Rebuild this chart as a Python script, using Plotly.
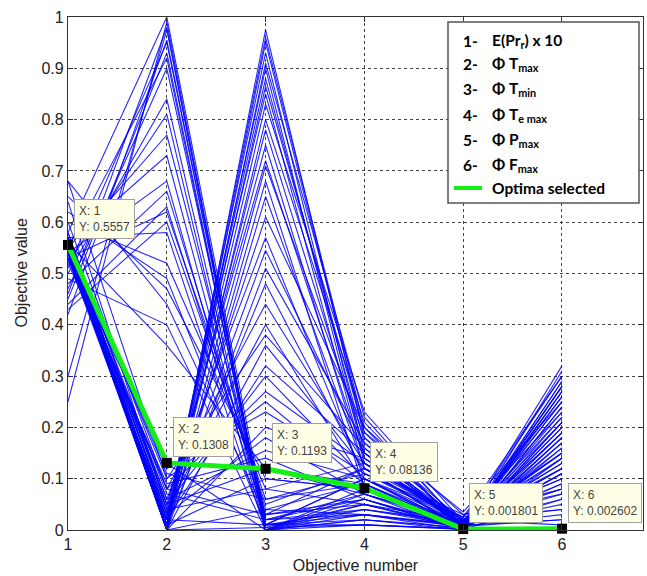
import plotly.graph_objects as go

# ---------------- data ----------------
objectives = [1, 2, 3, 4, 5, 6]

# values of each solution (one entry per blue line) on each objective
obj1 = [0.25, 0.30, 0.42, 0.45, 0.47, 0.50, 0.52, 0.55, 0.56, 0.54, 0.48, 0.44, 0.53, 0.57, 0.60,
        0.62, 0.65, 0.68, 0.46, 0.51, 0.55, 0.58, 0.43, 0.49, 0.56,
        0.55, 0.56, 0.54, 0.55, 0.57, 0.53, 0.56, 0.55, 0.54, 0.58, 0.55, 0.56, 0.53, 0.57, 0.55,
        0.54, 0.56, 0.60, 0.64, 0.68, 0.55, 0.56, 0.54, 0.57, 0.55,
        0.55, 0.54, 0.56, 0.53, 0.57, 0.55, 0.56, 0.54, 0.55, 0.52, 0.58, 0.55, 0.56, 0.54, 0.57,
        0.55, 0.53, 0.56, 0.55, 0.54]
obj2 = [0.99, 0.975, 0.955, 0.93, 0.90, 0.84, 0.81, 0.77, 0.73, 0.68, 0.66, 0.63, 0.62, 0.58, 0.52,
        0.49, 0.47, 0.44, 0.98, 0.95, 0.92, 1.0, 0.60, 0.40, 0.36,
        0.0, 0.01, 0.02, 0.0, 0.03, 0.01, 0.04, 0.0, 0.02, 0.05, 0.01, 0.0, 0.03, 0.06, 0.02,
        0.0, 0.01, 0.08, 0.04, 0.10, 0.0, 0.02, 0.01, 0.03, 0.0,
        0.0, 0.02, 0.05, 0.08, 0.10, 0.12, 0.0, 0.03, 0.06, 0.09, 0.01, 0.04, 0.11, 0.0, 0.07,
        0.02, 0.13, 0.05, 0.0, 0.08]
obj3 = [0.0, 0.005, 0.01, 0.0, 0.02, 0.01, 0.0, 0.03, 0.01, 0.0, 0.04, 0.02, 0.06, 0.0, 0.08,
        0.01, 0.10, 0.03, 0.0, 0.01, 0.0, 0.02, 0.05, 0.0, 0.12,
        0.975, 0.96, 0.93, 0.91, 0.88, 0.865, 0.85, 0.80, 0.78, 0.72, 0.71, 0.65, 0.61, 0.57, 0.545,
        0.51, 0.48, 0.44, 0.40, 0.38, 0.95, 0.90, 0.83, 0.75, 0.68,
        0.36, 0.32, 0.30, 0.27, 0.25, 0.23, 0.20, 0.18, 0.155, 0.14, 0.10, 0.08, 0.06, 0.04, 0.02,
        0.01, 0.0, 0.12, 0.005, 0.03]
obj4 = [0.02, 0.05, 0.03, 0.08, 0.04, 0.10, 0.06, 0.12, 0.01, 0.07, 0.09, 0.03, 0.11, 0.05, 0.13,
        0.02, 0.08, 0.06, 0.04, 0.10, 0.01, 0.07, 0.12, 0.03, 0.09,
        0.18, 0.20, 0.15, 0.22, 0.17, 0.19, 0.13, 0.21, 0.16, 0.14, 0.18, 0.12, 0.20, 0.10, 0.15,
        0.17, 0.11, 0.13, 0.09, 0.16, 0.19, 0.14, 0.23, 0.12, 0.08,
        0.12, 0.15, 0.10, 0.13, 0.09, 0.11, 0.14, 0.07, 0.10, 0.06, 0.08, 0.05, 0.09, 0.03, 0.06,
        0.04, 0.02, 0.07, 0.01, 0.05]
obj5 = [0.0, 0.005, 0.01, 0.002, 0.015, 0.0, 0.008, 0.02, 0.003, 0.012, 0.0, 0.006, 0.025, 0.001, 0.01,
        0.004, 0.018, 0.0, 0.007, 0.014, 0.002, 0.009, 0.03, 0.0, 0.011,
        0.01, 0.0, 0.02, 0.005, 0.015, 0.003, 0.025, 0.008, 0.0, 0.012, 0.018, 0.004, 0.03, 0.006, 0.01,
        0.0, 0.022, 0.014, 0.002, 0.009, 0.035, 0.007, 0.016, 0.001, 0.011,
        0.0, 0.012, 0.006, 0.02, 0.003, 0.015, 0.009, 0.0, 0.025, 0.004, 0.011, 0.017, 0.002, 0.008, 0.0,
        0.013, 0.005, 0.019, 0.001, 0.007]
obj6 = [0.31, 0.28, 0.25, 0.22, 0.30, 0.18, 0.26, 0.15, 0.20, 0.12, 0.27, 0.09, 0.23, 0.06, 0.19,
        0.29, 0.14, 0.24, 0.17, 0.21, 0.11, 0.32, 0.08, 0.16, 0.13,
        0.05, 0.21, 0.12, 0.27, 0.08, 0.18, 0.30, 0.03, 0.24, 0.14, 0.10, 0.26, 0.07, 0.20, 0.16,
        0.29, 0.04, 0.22, 0.11, 0.19, 0.25, 0.02, 0.15, 0.28, 0.09,
        0.17, 0.06, 0.23, 0.10, 0.28, 0.13, 0.02, 0.19, 0.08, 0.25, 0.15, 0.04, 0.21, 0.12, 0.27,
        0.07, 0.18, 0.01, 0.14, 0.11]

# selected optimum
optimum = [0.5557, 0.1308, 0.1193, 0.08136, 0.001801, 0.002602]
optimum_labels = ["0.5557", "0.1308", "0.1193", "0.08136", "0.001801", "0.002602"]

# legend text
legend_numbers = ["1-", "2-", "3-", "4-", "5-", "6-"]
legend_texts = ["E(Pr<sub>r</sub>) x 10", "\u03A6 T<sub>max</sub>", "\u03A6 T<sub>min</sub>",
                "\u03A6 T<sub>e max</sub>", "\u03A6 P<sub>max</sub>", "\u03A6 F<sub>max</sub>"]
legend_optima = "Optima selected"

# ---------------- figure ----------------
columns = [obj1, obj2, obj3, obj4, obj5, obj6]
xs, ys = [], []
for i in range(len(obj1)):
    for j, col in enumerate(columns):
        xs.append(objectives[j])
        ys.append(col[i])
    xs.append(None)
    ys.append(None)

fig = go.Figure()
fig.add_trace(go.Scatter(x=xs, y=ys, mode="lines",
                         line=dict(color="rgba(0,0,255,0.85)", width=1.1),
                         showlegend=False, hoverinfo="skip"))
fig.add_trace(go.Scatter(x=objectives, y=optimum, mode="lines",
                         line=dict(color="rgb(20,240,20)", width=5),
                         showlegend=False))
fig.add_trace(go.Scatter(x=objectives, y=optimum, mode="markers",
                         marker=dict(symbol="square", size=10, color="black"),
                         cliponaxis=False, showlegend=False))

FONT = "Liberation Sans, Arial, sans-serif"

# data tips
for xv, yv, lab in zip(objectives, optimum, optimum_labels):
    fig.add_annotation(x=xv, y=yv, xref="x", yref="y",
                       text=f"X: {xv}<br>Y: {lab}", showarrow=False,
                       xanchor="left", yanchor="bottom", xshift=6, yshift=6,
                       align="left", bgcolor="#FFFFE6", bordercolor="#A0A0A0",
                       borderwidth=1, borderpad=4,
                       font=dict(family=FONT, size=12, color="#444444"))

# legend box (pixel -> paper conversions)
L, R, T, B = 68, 4, 17, 46
W, H = 647, 576
pw, ph = W - L - R, H - T - B


def px(x):
    return (x - L) / pw


def py(y):
    return (H - B - y) / ph


fig.add_shape(type="rect", xref="paper", yref="paper",
              x0=px(448), x1=px(639), y0=py(203), y1=py(22),
              line=dict(color="#555555", width=1.5), fillcolor="white", layer="above")

LFONT = "Lato, Open Sans, sans-serif"
rows_y = [41, 64, 89, 115, 140, 165]
for num, txt, yy in zip(legend_numbers, legend_texts, rows_y):
    fig.add_annotation(x=px(461), y=py(yy), xref="paper", yref="paper", text=f"<b>{num}</b>",
                       showarrow=False, xanchor="left", yanchor="middle",
                       font=dict(family=LFONT, size=15.5, color="black"))
    fig.add_annotation(x=px(490), y=py(yy), xref="paper", yref="paper", text=f"<b>{txt}</b>",
                       showarrow=False, xanchor="left", yanchor="middle",
                       font=dict(family=LFONT, size=15.5, color="black"))
fig.add_shape(type="line", xref="paper", yref="paper",
              x0=px(454), x1=px(482), y0=py(188), y1=py(188),
              line=dict(color="rgb(20,240,20)", width=4), layer="above")
fig.add_annotation(x=px(490), y=py(188), xref="paper", yref="paper", text=f"<b>{legend_optima}</b>",
                   showarrow=False, xanchor="left", yanchor="middle",
                   font=dict(family=LFONT, size=15.5, color="black"))

# y-axis title placed as annotation to match the reference position
fig.add_annotation(x=px(21), y=0.5, xref="paper", yref="paper", text="Objective value",
                   textangle=-90, showarrow=False, xanchor="center", yanchor="middle",
                   font=dict(family=FONT, size=16, color="#222222"))

axis_common = dict(showline=True, linecolor="#333333", linewidth=1.2, mirror="ticks",
                   ticks="inside", ticklen=5, tickcolor="#333333",
                   showgrid=True, gridcolor="#444444", gridwidth=1, griddash="dot",
                   zeroline=False, tickfont=dict(family=FONT, size=16, color="#222222"))

fig.update_layout(
    width=W, height=H,
    margin=dict(l=L, r=R, t=T, b=B),
    paper_bgcolor="white", plot_bgcolor="white",
    xaxis=dict(range=[1, 6.82], tickvals=objectives, ticktext=[str(v) for v in objectives],
               title=dict(text="Objective number", font=dict(family=FONT, size=16, color="#222222"),
                          standoff=7),
               **axis_common),
    yaxis=dict(range=[0, 1], tickvals=[i / 10 for i in range(11)],
               ticktext=["0", "0.1", "0.2", "0.3", "0.4", "0.5", "0.6", "0.7", "0.8", "0.9", "1"],
               **axis_common),
)

fig.write_html("out.html")
